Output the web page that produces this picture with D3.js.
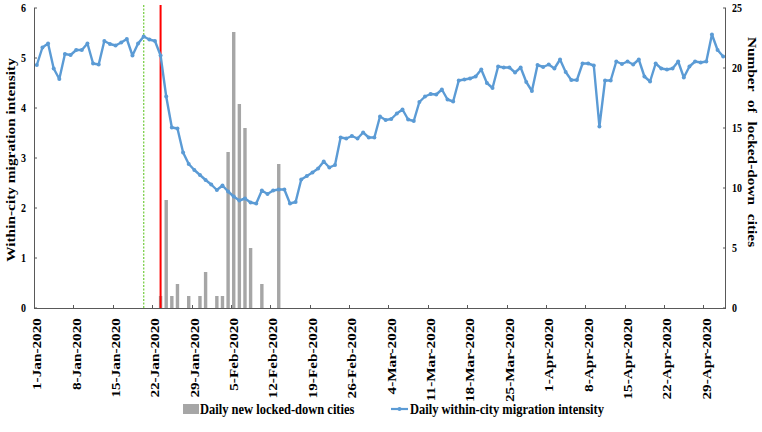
<!DOCTYPE html>
<html><head><meta charset="utf-8">
<script src="https://cdn.jsdelivr.net/npm/d3@7"></script>
<style>body{margin:0;background:#fff}svg{display:block}text{font-family:"Liberation Serif","Times New Roman",serif;font-weight:bold}</style>
</head><body><svg id="c" width="762" height="432"></svg>
<script>
const startDate = "2020-01-01";
const intensity = [4.86,5.21,5.29,4.79,4.58,5.08,5.06,5.16,5.16,5.29,4.89,4.87,5.34,5.28,5.25,5.31,5.38,5.05,5.29,5.43,5.37,5.34,5.05,4.23,3.61,3.59,3.11,2.88,2.76,2.66,2.56,2.47,2.36,2.45,2.33,2.23,2.15,2.19,2.11,2.09,2.35,2.28,2.35,2.37,2.37,2.09,2.12,2.57,2.64,2.71,2.79,2.93,2.81,2.86,3.41,3.39,3.44,3.39,3.51,3.41,3.41,3.83,3.76,3.78,3.89,3.97,3.77,3.74,4.12,4.23,4.28,4.27,4.37,4.17,4.13,4.55,4.57,4.59,4.63,4.77,4.50,4.40,4.83,4.81,4.81,4.71,4.81,4.52,4.34,4.86,4.82,4.87,4.79,4.97,4.72,4.56,4.56,4.89,4.89,4.85,3.63,4.55,4.55,4.93,4.88,4.93,4.87,4.97,4.63,4.53,4.89,4.79,4.77,4.79,4.93,4.61,4.83,4.93,4.91,4.93,5.47,5.16,5.03];
const lockDates = ["2020-01-23","2020-01-24","2020-01-25","2020-01-26","2020-01-28","2020-01-30","2020-01-31","2020-02-02","2020-02-03","2020-02-04","2020-02-05","2020-02-06","2020-02-07","2020-02-08","2020-02-10","2020-02-13"];
const lockCounts = [1,9,1,2,1,1,3,1,1,13,23,17,15,5,2,12];
const tickDates = ["2020-01-01","2020-01-08","2020-01-15","2020-01-22","2020-01-29","2020-02-05","2020-02-12","2020-02-19","2020-02-26","2020-03-04","2020-03-11","2020-03-18","2020-03-25","2020-04-01","2020-04-08","2020-04-15","2020-04-22","2020-04-29"];
const tickLabels = ["1-Jan-2020","8-Jan-2020","15-Jan-2020","22-Jan-2020","29-Jan-2020","5-Feb-2020","12-Feb-2020","19-Feb-2020","26-Feb-2020","4-Mar-2020","11-Mar-2020","18-Mar-2020","25-Mar-2020","1-Apr-2020","8-Apr-2020","15-Apr-2020","22-Apr-2020","29-Apr-2020"];
const leftTicks = [0,1,2,3,4,5,6];
const rightTicks = [0,5,10,15,20,25];
const greenDate = "2020-01-20", redDate = "2020-01-23";

const P = d3.utcParse("%Y-%m-%d");
const DAY = 864e5, HALF = 432e5;
const d0 = P(startDate);
const series = intensity.map((v,i)=>({date:new Date(+d0 + i*DAY), v}));
const lastDate = series[series.length-1].date;

const L=34, R=726, T=8, B=308;
const x = d3.scaleUtc().domain([new Date(+d0-HALF), new Date(+lastDate+HALF)]).range([L,R]);
const yL = d3.scaleLinear().domain([0,6]).range([B,T]);
const yR = d3.scaleLinear().domain([0,25]).range([B,T]);
const svg = d3.select("#c");

// bars
svg.append("g").selectAll("rect").data(lockDates.map((d,i)=>({date:P(d),v:lockCounts[i]}))).join("rect")
  .attr("x",d=>x(d.date)-1.7).attr("width",3.4)
  .attr("y",d=>yR(d.v)).attr("height",d=>B-yR(d.v)).attr("fill","#a6a6a6");

// reference lines
svg.append("line").attr("x1",x(P(greenDate))).attr("x2",x(P(greenDate))).attr("y1",T-3).attr("y2",B)
  .attr("stroke","#7ccf4a").attr("stroke-width",1.3).attr("stroke-dasharray","2,1.5");
svg.append("line").attr("x1",x(P(redDate))).attr("x2",x(P(redDate))).attr("y1",T-3).attr("y2",B)
  .attr("stroke","#ff0000").attr("stroke-width",2);

// line
const lc = "#5b9bd5";
svg.append("path").datum(series).attr("fill","none").attr("stroke",lc).attr("stroke-width",2.4)
  .attr("stroke-linejoin","round")
  .attr("d",d3.line().x(d=>x(d.date)).y(d=>yL(d.v)));
svg.append("g").selectAll("circle").data(series).join("circle")
  .attr("cx",d=>x(d.date)).attr("cy",d=>yL(d.v)).attr("r",2).attr("fill",lc);

// axes
const ax = svg.append("g").attr("stroke","#595959").attr("stroke-width",1).attr("fill","none");
ax.append("line").attr("x1",L).attr("x2",R).attr("y1",B+0.5).attr("y2",B+0.5);
ax.append("line").attr("x1",L+0.5).attr("x2",L+0.5).attr("y1",T).attr("y2",B);
ax.append("line").attr("x1",R-0.5).attr("x2",R-0.5).attr("y1",T).attr("y2",B);
leftTicks.forEach(t=>ax.append("line").attr("x1",L).attr("x2",L+3).attr("y1",yL(t)).attr("y2",yL(t)));
rightTicks.forEach(t=>ax.append("line").attr("x1",R-3).attr("x2",R).attr("y1",yR(t)).attr("y2",yR(t)));
tickDates.forEach(d=>{const xx=Math.round(x(new Date(+P(d)-HALF)))+0.5; ax.append("line").attr("x1",xx).attr("x2",xx).attr("y1",B-3).attr("y2",B);});

const tg = svg.append("g").attr("fill","#000");
leftTicks.forEach(t=>tg.append("text").attr("transform",`translate(26,${yL(t)}) scale(1,1.2)`).attr("text-anchor","end").attr("dy","0.35em").attr("font-size",10).text(t));
rightTicks.forEach(t=>tg.append("text").attr("transform",`translate(732,${yR(t)}) scale(1,1.2)`).attr("text-anchor","start").attr("dy","0.35em").attr("font-size",10).text(t));
tickDates.forEach((d,i)=>tg.append("text").attr("transform",`translate(${x(P(d))},318) rotate(-90) scale(1.22,1)`)
  .attr("text-anchor","end").attr("dy","0.35em").attr("font-size",12.5).text(tickLabels[i]));

tg.append("text").attr("transform","translate(11,160) rotate(-90) scale(1.22,1)").attr("text-anchor","middle").attr("dy","0.35em").attr("font-size",12.6).text("Within-city migration intensity");
tg.append("text").attr("transform","translate(752,142) rotate(90) scale(1.22,1)").attr("text-anchor","middle").attr("dy","0.35em").attr("font-size",12.6).attr("word-spacing",4).text("Number of locked-down cities");

// legend
svg.append("rect").attr("x",183).attr("y",404).attr("width",16).attr("height",10).attr("fill","#a6a6a6");
tg.append("text").attr("transform","translate(200,409) scale(1,1.2)").attr("dy","0.35em").attr("font-size",12.5).text("Daily new locked-down cities");
svg.append("line").attr("x1",391).attr("x2",408).attr("y1",409).attr("y2",409).attr("stroke",lc).attr("stroke-width",2.2);
svg.append("circle").attr("cx",399.5).attr("cy",409).attr("r",2).attr("fill",lc);
tg.append("text").attr("transform","translate(410,409) scale(1,1.2)").attr("dy","0.35em").attr("font-size",12.5).text("Daily within-city migration intensity");
</script></body></html>
